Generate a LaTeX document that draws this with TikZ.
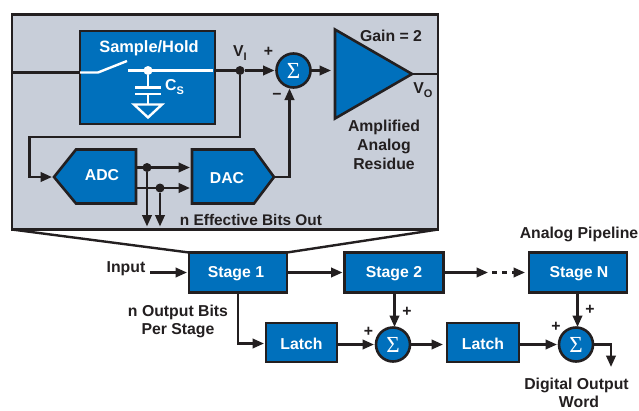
\documentclass[tikz,border=0pt]{standalone}
\usepackage{fontspec}
\setmainfont{Liberation Sans}
\newfontfamily\serifsym{Liberation Serif}
\usetikzlibrary{arrows.meta}
\definecolor{adblue}{HTML}{0070BC}
\definecolor{adink}{HTML}{231F20}
\definecolor{adgray}{HTML}{C8CED9}
\newcommand{\lbl}{\fontsize{15.8}{18}\selectfont\bfseries}
\newcommand{\subl}[1]{\raisebox{-3.5pt}{\fontsize{11}{12}\selectfont\bfseries #1}}
\tikzset{
  x=1pt,y=-1pt,
  ink/.style={line width=2.4pt,draw=adink},
  wire/.style={ink,line join=miter},
  arr/.style={wire,-{Triangle[length=11.5pt,width=9.5pt]}},
  blockbox/.style={draw=adink,line width=2.6pt,fill=adblue,text=white,font=\lbl,outer sep=0pt,inner sep=0pt,anchor=center},
  sumnode/.style={circle,draw=adink,line width=2.6pt,fill=adblue,text=white,minimum size=34pt,inner sep=0pt,outer sep=0pt,font=\serifsym\fontsize{23}{23}\selectfont},
  dotnode/.style={circle,fill=adink,minimum size=9pt,inner sep=0pt,outer sep=0pt},
  txt/.style={text=adink,font=\lbl,align=center,inner sep=0pt},
  wtxt/.style={text=white,font=\lbl,align=center,inner sep=0pt},
  white wire/.style={draw=white,line width=2.4pt},
}
\begin{document}
\begin{tikzpicture}
\useasboundingbox (0,0) rectangle (639,410);
\fill[white] (0,0) rectangle (639,410);
% zoom lines
\coordinate (bl) at (12,229.5);
\coordinate (br) at (438,229.5);
% gray panel
\draw[ink,line width=2.6pt,fill=adgray] (12,14.5) rectangle (438,229.5);
% sample/hold
\node[blockbox,minimum width=135pt,minimum height=93pt] (sh) at (147.5,77.5) {};
\node[wtxt] (shl) at (149,48) {\fontsize{16.4}{18}\selectfont Sample/Hold};
\coordinate (inl) at (12,72.5);
\draw[wire] (inl) -- (sh.west |- inl);
\coordinate (sw1) at (98,72.5);
\coordinate (sw2) at (127,61);
\coordinate (sw3) at (128,70.5);
\coordinate (shout) at (213,70.5);
\draw[white wire] (sh.west |- inl) -- (sw1) -- (sw2);
\draw[white wire] (sw3) -- (shout);
\node[circle,fill=white,minimum size=9pt,inner sep=0pt] (cnode) at (148,70.5) {};
\coordinate (p1) at (148,87.5);
\coordinate (p2) at (148,94);
\coordinate (gt) at (148,104.5);
\draw[white wire] (cnode) -- (p1);
\draw[white wire] (135,87.5) -- (161,87.5);
\draw[white wire] (135,94) -- (161,94);
\draw[white wire] (p2) -- (gt);
\draw[white wire,line join=miter] (134,104.5) -- (162,104.5) -- (148,117.5) -- cycle;
\node[wtxt,anchor=west] (cs) at (165,87) {C\subl{S}};
% sum 1
\node[sumnode] (s1) at (293.5,70.5) {Σ};
\node[dotnode] (vi) at (240,70.5) {};
\draw[wire] (sh.east |- vi) -- (vi);
\draw[arr,shorten >=2pt] (vi) -- (s1.west |- vi);
\node[txt] (vil) at (240,53) {V\subl{I}};
\node[txt] at (268.5,52) {+};
\node[txt] at (277,96) {\textminus};
% amp
\draw[ink,line width=2.6pt,fill=adblue,line join=miter] (335,29.5) coordinate (a1) -- (335,118.5) coordinate (a2) -- (412,74) coordinate (aout) -- cycle;
\coordinate (ain) at (335,70.5);
\draw[arr,shorten >=4pt] (s1) -- (ain);
\coordinate (pnl) at (438,74);
\draw[wire] (aout) -- (pnl);
\node[txt] at (391,35.5) {Gain = 2};
\node[txt] at (423,90) {V\subl{O}};
\node[txt] at (384,127) {Amplified};
\node[txt] at (384,146) {Analog};
\node[txt] at (384,164) {Residue};
% ADC / DAC
\draw[ink,line width=2.6pt,fill=adblue,line join=miter] (54,177) coordinate (adctip) -- (76,149.5) -- (136,149.5) -- (136,203.5) -- (76,203.5) -- cycle;
\draw[ink,line width=2.6pt,fill=adblue,line join=miter] (192,149.5) -- (254,149.5) -- (274,177) coordinate (dactip) -- (254,203.5) -- (192,203.5) -- cycle;
\node[wtxt] (adc) at (102,175.5) {ADC};
\node[wtxt] (dac) at (227,178) {DAC};
\coordinate (c1) at (240,137);
\coordinate (c2) at (29.5,137);
\coordinate (c3) at (29.5,177);
\draw[arr,shorten >=2pt] (vi) -- (c1) -- (c2) -- (c3) -- (adctip);
\coordinate (d1) at (136,167.5);
\coordinate (d2) at (136,188);
\coordinate (e1) at (192,167.5);
\coordinate (e2) at (192,188);
\node[dotnode] (n1) at (147,167.5) {};
\node[dotnode] (n2) at (160,188) {};
\coordinate (o1) at (147,226.5);
\coordinate (o2) at (160,226.5);
\draw[arr,shorten >=2pt] (d1) -- (e1);
\draw[arr,shorten >=2pt] (d2) -- (e2);
\draw[arr] (n1) -- (o1);
\draw[arr] (n2) -- (o2);
\coordinate (t1) at (289.5,177);
\draw[arr,shorten >=1pt] (dactip) -- (t1) -- (s1.south -| t1);
\node[txt] at (251,219.5) {\fontsize{15.4}{18}\selectfont n Effective Bits Out};
% stages
\node[blockbox,minimum width=98pt,minimum height=40pt] (st1) at (238,272.5) {};
\node[blockbox,minimum width=99pt,minimum height=40pt] (st2) at (394,272.5) {};
\node[blockbox,minimum width=98pt,minimum height=40pt] (stn) at (578,272.5) {};
\node[wtxt] at (236,274) {Stage 1};
\node[wtxt] at (394,274) {Stage 2};
\node[wtxt] at (579,274) {Stage N};
\draw[ink] (bl) -- (st1.north west);
\draw[ink] (br) -- (st1.north east);
\node[txt] (inp) at (126,269) {Input};
\coordinate (inp2) at (150,272.5);
\draw[arr,shorten >=2pt] (inp2) -- (st1.west |- inp2);
\draw[arr,shorten >=2pt] (st1) -- (st2);
\coordinate (mid) at (488,272.5);
\coordinate (midb) at (492,272.5);
\draw[arr] (st2) -- (mid);
\draw[arr,shorten >=4pt,dash pattern=on 5pt off 5pt] (midb) -- (stn);
\node[txt] at (579,234.5) {Analog Pipeline};
\node[txt] at (178,312.5) {n Output Bits};
\node[txt] at (178,330.5) {Per Stage};
% latches and sums
\node[blockbox,minimum width=71pt,minimum height=39pt] (l1) at (301.5,342.5) {};
\node[blockbox,minimum width=72pt,minimum height=39pt] (l2) at (483,342.5) {};
\node[wtxt] at (301.5,344) {Latch};
\node[wtxt] at (483,344) {Latch};
\node[sumnode] (s2) at (393,344.5) {Σ};
\node[sumnode] (s3) at (576,344.5) {Σ};
\coordinate (bend) at (238,343.5);
\draw[arr,shorten >=2pt] (st1.south -| bend) -- (bend) -- (l1.west |- bend);
\draw[arr,shorten >=2pt] (l1.east |- s2) -- (s2);
\draw[arr,shorten >=4pt] (s2) -- (l2.west |- s2);
\draw[arr,shorten >=2pt] (l2.east |- s3) -- (s3);
\coordinate (s2top) at (394.5,327);
\coordinate (s3top) at (577.5,327);
\draw[arr] (st2.south -| s2top) -- (s2top);
\draw[arr] (stn.south -| s3top) -- (s3top);
\coordinate (b3) at (611,344.5);
\coordinate (b4) at (611,367);
\draw[arr] (s3) -- (b3) -- (b4);
\node[txt] at (407,312) {+};
\node[txt] at (368.5,332) {+};
\node[txt] at (590,310) {+};
\node[txt] at (556,327) {+};
\node[txt] at (576.5,385) {Digital Output};
\node[txt] at (579,401.5) {Word};
\end{tikzpicture}
\end{document}
